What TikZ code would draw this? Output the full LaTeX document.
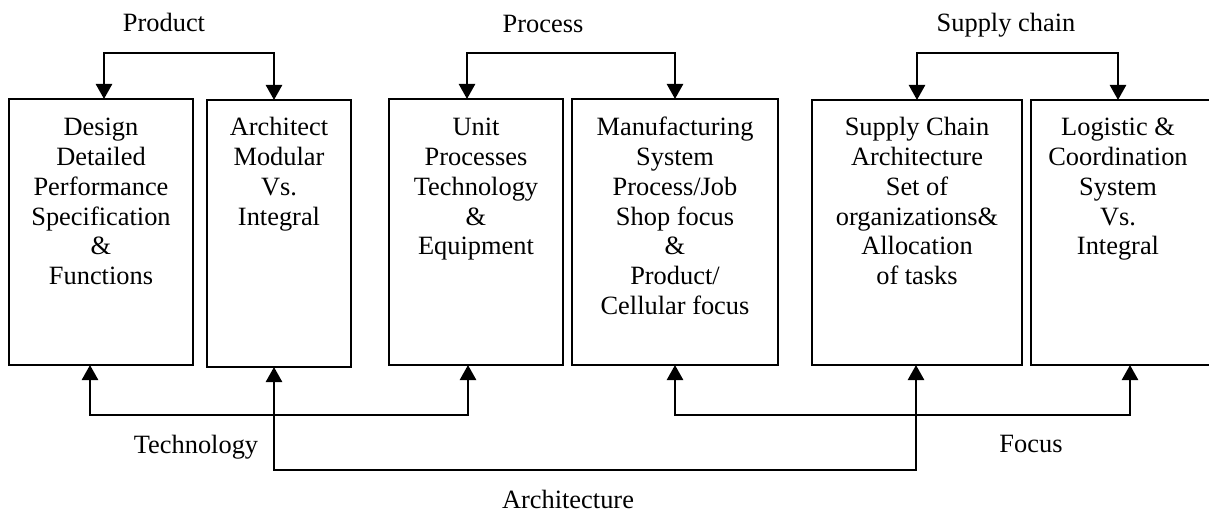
\documentclass[tikz,border=0pt]{standalone}
\usepackage{fontspec}
\setmainfont{Liberation Serif}
\usetikzlibrary{arrows.meta}
\begin{document}
\begin{tikzpicture}[x=1pt,y=-1pt,
  boxnode/.style={draw, line width=2pt, inner sep=0pt, outer sep=0pt},
  txt/.style={inner sep=0pt, font=\fontsize{26.4}{29.7}\selectfont},
  conn/.style={line width=2.5pt, {Triangle[width=16pt,length=15pt]}-{Triangle[width=16pt,length=15pt]}}]
\useasboundingbox (0,0) rectangle (1209,513);
\fill[white] (0,0) rectangle (1209,513);
% boxes
\node[boxnode, minimum width=184pt, minimum height=266pt] (b1) at (101,232) {};
\node[boxnode, minimum width=144pt, minimum height=267pt] (b2) at (279,233.5) {};
\node[boxnode, minimum width=174pt, minimum height=266pt] (b3) at (476,232) {};
\node[boxnode, minimum width=206pt, minimum height=266pt] (b4) at (675,232) {};
\node[boxnode, minimum width=210pt, minimum height=265pt] (b5) at (917,232.5) {};
\node[boxnode, minimum width=200pt, minimum height=265pt] (b6) at (1131,232.5) {};
% box texts
\node[txt, anchor=base] (t1) at (101,136) {\begin{tabular}[t]{@{}c@{}}Design\\Detailed\\Performance\\Specification\\\&\\Functions\end{tabular}};
\node[txt, anchor=base] (t2) at (279,136) {\begin{tabular}[t]{@{}c@{}}Architect\\Modular\\Vs.\\Integral\end{tabular}};
\node[txt, anchor=base] (t3) at (476,136) {\begin{tabular}[t]{@{}c@{}}Unit\\Processes\\Technology\\\&\\Equipment\end{tabular}};
\node[txt, anchor=base] (t4) at (675,136) {\begin{tabular}[t]{@{}c@{}}Manufacturing\\System\\Process/Job\\Shop focus\\\&\\Product/\\Cellular focus\end{tabular}};
\node[txt, anchor=base] (t5) at (917,136) {\begin{tabular}[t]{@{}c@{}}Supply Chain\\Architecture\\Set of\\organizations\&\\Allocation\\of tasks\end{tabular}};
\node[txt, anchor=base] (t6) at (1118,136) {\begin{tabular}[t]{@{}c@{}}Logistic \&\\Coordination\\System\\Vs.\\Integral\end{tabular}};
% labels
\node[txt, anchor=base] (lprod) at (164,32) {Product};
\node[txt, anchor=base] (lproc) at (543,33) {Process};
\node[txt, anchor=base] (lsup) at (1006,32) {Supply chain};
\node[txt, anchor=base] (ltech) at (196,453) {Technology};
\node[txt, anchor=base] (lfocus) at (1031,452) {Focus};
\node[txt, anchor=base] (larch) at (568,508) {Architecture};
% top connectors
\draw[conn] ([xshift=3pt]b1.north) -- ++(0,-46) -| ([xshift=-5pt]b2.north);
\draw[conn] ([xshift=-9pt]b3.north) -- ++(0,-46) -| (b4.north);
\draw[conn] (b5.north) -- ++(0,-47) -| ([xshift=-13pt]b6.north);
% bottom connectors
\draw[conn] ([xshift=-11pt]b1.south) -- ++(0,50) -| ([xshift=-8pt]b3.south);
\draw[conn] ([xshift=-5pt]b2.south) -- ++(0,103) -| ([xshift=-1pt]b5.south);
\draw[conn] (b4.south) -- ++(0,50) -| ([xshift=-1pt]b6.south);
\end{tikzpicture}
\end{document}
